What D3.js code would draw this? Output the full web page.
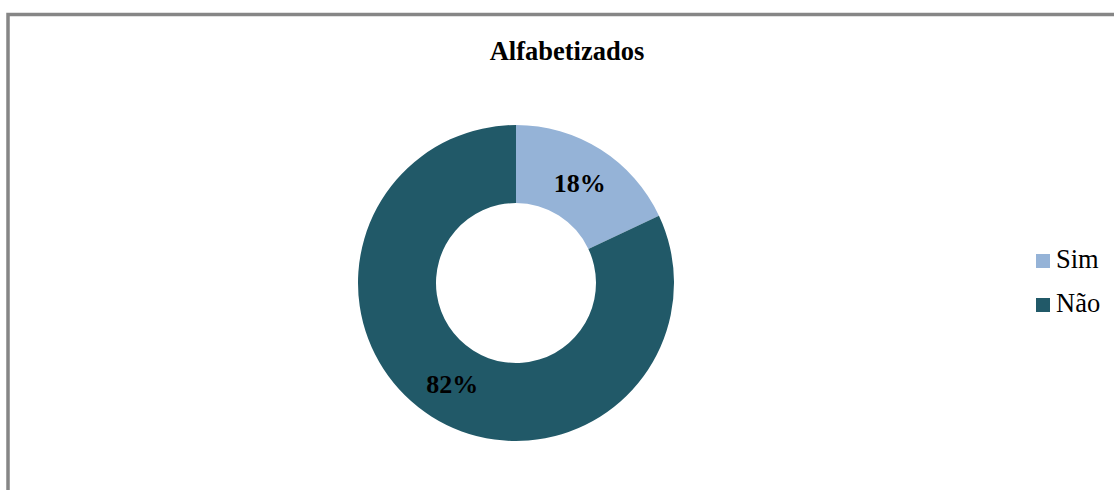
<!DOCTYPE html>
<html>
<head>
<meta charset="utf-8">
<script src="https://cdn.jsdelivr.net/npm/d3@7"></script>
<style>
	body { margin: 0; background: #fff; }
	svg { display: block; }
</style>
</head>
<body>
<div id="chart"></div>
<script>
var categories = ['Sim', 'Não'],
	values = [18, 82],
	labels = ['18%', '82%'],
	colours = ['#95b3d7', '#215968']

var width = 1114,
	height = 490,
	cx = 516, cy = 283,
	outer = 158, inner = 80,
	serif = '"Liberation Serif", "Times New Roman", serif'

var svg = d3.select('#chart').append('svg')
	.attr('width', width)
	.attr('height', height)

// frame, only left and top edges show
svg.append('rect')
	.attr('x', 8)
	.attr('y', 14.5)
	.attr('width', width + 20)
	.attr('height', height + 20)
	.attr('fill', '#fff')
	.attr('stroke', '#868686')
	.attr('stroke-width', 3.5)

svg.append('text')
	.attr('x', 567)
	.attr('y', 60)
	.attr('text-anchor', 'middle')
	.style('font-family', serif)
	.style('font-weight', 'bold')
	.style('font-size', '26.5px')
	.text('Alfabetizados')

var pie = d3.pie().sort(null).value(function(d) { return d })
var arc = d3.arc().innerRadius(inner).outerRadius(outer)

var g = svg.append('g').attr('transform', 'translate(' + cx + ',' + cy + ')')
var arcs = pie(values)

g.selectAll('path')
	.data(arcs)
	.enter().append('path')
	.attr('d', arc)
	.attr('fill', function(d, i) { return colours[i] })

g.selectAll('text')
	.data(arcs)
	.enter().append('text')
	.attr('transform', function(d) {
		var c = arc.centroid(d)
		return 'translate(' + c[0] + ',' + c[1] + ')'
	})
	.attr('text-anchor', 'middle')
	.attr('dy', '0.35em')
	.style('font-family', serif)
	.style('font-weight', 'bold')
	.style('font-size', '26px')
	.style('fill', '#000')
	.text(function(d, i) { return labels[i] })

var legend = svg.append('g').attr('transform', 'translate(1036,254)')
var item = legend.selectAll('g')
	.data(categories)
	.enter().append('g')
	.attr('transform', function(d, i) { return 'translate(0,' + i * 44 + ')' })

item.append('rect')
	.attr('width', 14)
	.attr('height', 14)
	.attr('fill', function(d, i) { return colours[i] })

item.append('text')
	.attr('x', 20)
	.attr('y', 14)
	.style('font-family', serif)
	.style('font-size', '26.5px')
	.text(function(d) { return d })
</script>
</body>
</html>
